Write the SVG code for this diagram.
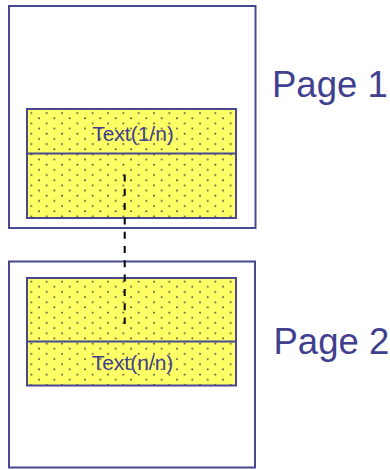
<svg xmlns="http://www.w3.org/2000/svg" width="390" height="470" viewBox="0 0 390 470">
<defs>
<pattern id="dots" patternUnits="userSpaceOnUse" x="27.5" y="110.5" width="15.33" height="10.33">
<rect width="15.33" height="10.33" fill="#ffff66"/>
<circle cx="3.9" cy="2.6" r="0.95" fill="#4d4d40"/>
<circle cx="11.55" cy="7.75" r="0.95" fill="#4d4d40"/>
</pattern>
<pattern id="dots2" patternUnits="userSpaceOnUse" x="27.5" y="279" width="15.33" height="10.33">
<rect width="15.33" height="10.33" fill="#ffff66"/>
<circle cx="3.9" cy="2.6" r="0.95" fill="#4d4d40"/>
<circle cx="11.55" cy="7.75" r="0.95" fill="#4d4d40"/>
</pattern>
</defs>
<style>
.page{fill:#ffffff;stroke:#484890;stroke-width:2}
.box{stroke:#484890;stroke-width:2}
.t{font-family:"Liberation Sans",Arial,sans-serif;fill:#40408f}
.small{font-size:21px;text-anchor:middle}
.big{font-size:36.5px}
</style>
<g id="page1">
<rect class="page" x="9" y="6" width="246.5" height="222"/>
<rect class="box" x="27" y="109" width="209" height="109" fill="url(#dots)"/>
<line class="box" x1="27" y1="153.5" x2="236" y2="153.5"/>
<text class="t small" x="133" y="140.5">Text(1/n)</text>
<text class="t big" x="272" y="97">Page 1</text>
</g>
<g id="page2">
<rect class="page" x="9" y="261.5" width="246" height="206"/>
<rect class="box" x="27" y="278" width="209" height="107.5" fill="url(#dots2)"/>
<line class="box" x1="27" y1="341.5" x2="236" y2="341.5"/>
<text class="t small" x="132.5" y="370">Text(n/n)</text>
<text class="t big" x="273.5" y="353.5">Page 2</text>
</g>
<g id="connectors">
<line x1="124.7" y1="174.5" x2="124.7" y2="324" stroke="#000000" stroke-width="2" stroke-dasharray="7,7.3"/>
</g>
</svg>
